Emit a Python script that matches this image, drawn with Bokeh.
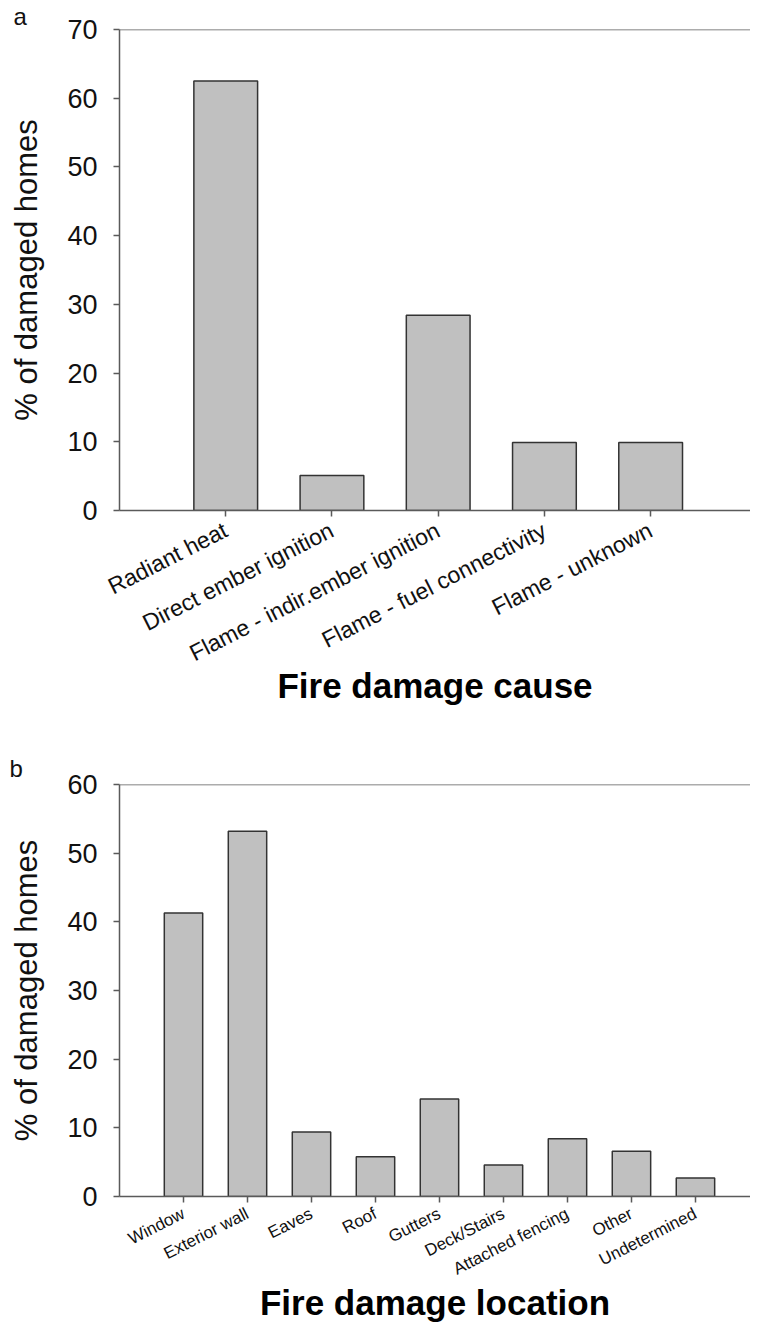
import math
from bokeh.plotting import figure
from bokeh.models import FixedTicker, Span, Title
from bokeh.layouts import column
from bokeh.embed import file_html
from bokeh.resources import INLINE

# ---- data ----
cause_labels = ["Radiant heat", "Direct ember ignition", "Flame - indir.ember ignition",
                "Flame - fuel connectivity", "Flame - unknown"]
cause_values = [62.5, 5.1, 28.4, 9.9, 9.9]
cause_yticks = [0, 10, 20, 30, 40, 50, 60, 70]

location_labels = ["Window", "Exterior wall", "Eaves", "Roof", "Gutters", "Deck/Stairs",
                   "Attached fencing", "Other", "Undetermined"]
location_values = [41.3, 53.2, 9.4, 5.8, 14.2, 4.6, 8.4, 6.6, 2.7]
location_yticks = [0, 10, 20, 30, 40, 50, 60]

FONT = "Liberation Sans"
AXIS_COLOR = "#5a5a5a"
BAR_FILL = "#c0c0c0"
BAR_LINE = "#333333"


def make_panel(labels, values, yticks, xend, width, height, bl, bt, bb,
               xlabel, label_size, label_angle, label_standoff, title_standoff,
               panel_letter, letter_offset, letter_standoff):
    xs = [i + 1 for i in range(len(labels))]
    p = figure(width=width, height=height, x_range=(0, xend), y_range=(yticks[0], yticks[-1]),
               output_backend="svg", toolbar_location=None,
               min_border_left=bl, min_border_right=0, min_border_top=bt, min_border_bottom=bb)
    p.outline_line_color = None
    p.xgrid.visible = False
    p.ygrid.visible = False
    p.background_fill_color = "white"
    p.border_fill_color = "white"

    p.vbar(x=xs, top=values, width=0.6, bottom=0,
           fill_color=BAR_FILL, line_color=BAR_LINE, line_width=1.5)

    p.add_layout(Span(location=yticks[-1], dimension="width",
                      line_color=AXIS_COLOR, line_width=1.5))

    # panel letter
    p.add_layout(Title(text=panel_letter, align="left", offset=letter_offset,
                       standoff=letter_standoff, text_font=FONT, text_font_size="24px",
                       text_font_style="normal", text_color="#111111"), "above")

    # y axis
    ya = p.yaxis[0]
    ya.ticker = FixedTicker(ticks=yticks)
    ya.axis_line_color = AXIS_COLOR
    ya.axis_line_width = 1.5
    ya.major_tick_line_color = AXIS_COLOR
    ya.major_tick_line_width = 1.5
    ya.major_tick_out = 6
    ya.major_tick_in = 0
    ya.minor_tick_line_color = None
    ya.major_label_text_font = FONT
    ya.major_label_text_font_size = "27px"
    ya.major_label_text_color = "#111111"
    ya.major_label_standoff = 16
    ya.axis_label = "% of damaged homes"
    ya.axis_label_text_font = FONT
    ya.axis_label_text_font_size = "31px"
    ya.axis_label_text_font_style = "normal"
    ya.axis_label_text_color = "#111111"
    ya.axis_label_standoff = 20

    # x axis
    xa = p.xaxis[0]
    xa.ticker = FixedTicker(ticks=xs)
    xa.major_label_overrides = {x: lab for x, lab in zip(xs, labels)}
    xa.major_label_orientation = math.radians(label_angle)
    xa.axis_line_color = AXIS_COLOR
    xa.axis_line_width = 1.5
    xa.major_tick_line_color = AXIS_COLOR
    xa.major_tick_line_width = 1.5
    xa.major_tick_out = 6
    xa.major_tick_in = 0
    xa.minor_tick_line_color = None
    xa.major_label_text_font = FONT
    xa.major_label_text_font_size = label_size
    xa.major_label_text_color = "#111111"
    xa.major_label_standoff = label_standoff
    xa.axis_label = xlabel
    xa.axis_label_text_font = FONT
    xa.axis_label_text_font_size = "35px"
    xa.axis_label_text_font_style = "bold"
    xa.axis_label_text_color = "#000000"
    xa.axis_label_standoff = title_standoff
    return p


pa = make_panel(cause_labels, cause_values, cause_yticks, 5.94, 750, 732,
                116, 29, 222, "Fire damage cause", "23px", 27, 12, -15,
                "a", -106, 0)
pb = make_panel(location_labels, location_values, location_yticks, 9.86, 750, 592,
                119, 52, 123, "Fire damage location", "17px", 27, 10, -7,
                "b", -110, 6)

layout = column(pa, pb, spacing=0)
open("out.html", "w").write(file_html(layout, INLINE))
